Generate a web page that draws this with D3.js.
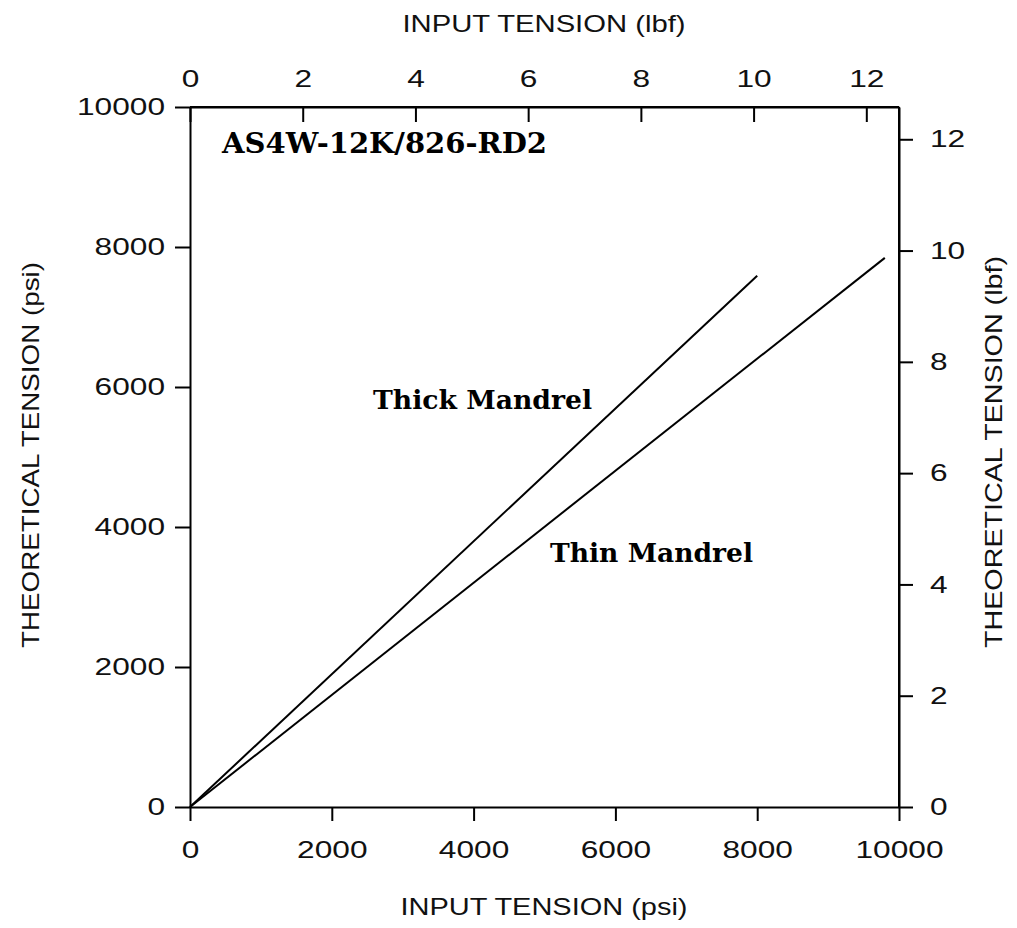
<!DOCTYPE html>
<html>
<head>
<meta charset="utf-8">
<script src="https://cdn.jsdelivr.net/npm/d3@7"></script>
<style>
  html, body { margin: 0; padding: 0; background: #fff; }
  svg { display: block; }
</style>
</head>
<body>
<div id="chart"></div>
<script>
// values
const seriesNames = ['Thick Mandrel', 'Thin Mandrel'];
const thickInput = [0, 8000];        // input tension, psi
const thickTheo  = [0, 7590];        // theoretical tension, psi
const thinInput  = [0, 9800];
const thinTheo   = [0, 7845];
const psiTicks   = [0, 2000, 4000, 6000, 8000, 10000];
const lbfTicks   = [0, 2, 4, 6, 8, 10, 12];
const lbfPerPsi  = 0.001258;         // conversion used by the secondary axes
const materialLabel = 'AS4W-12K/826-RD2';

(function(){
  const W = 1017, H = 928,
        left = 190, right = 899, top = 107, bottom = 807;

  const svg = d3.select('#chart').append('svg')
    .attr('width', W).attr('height', H);

  const x  = d3.scaleLinear().domain([0, 10000]).range([left, right]);
  const y  = d3.scaleLinear().domain([0, 10000]).range([bottom, top]);
  const x2 = d3.scaleLinear().domain([0, 10000 * lbfPerPsi]).range([left, right]);
  const y2 = d3.scaleLinear().domain([0, 10000 * lbfPerPsi]).range([bottom, top]);

  const tickFont = 'Liberation Sans, Arial, sans-serif';
  const sx = 1.32; // glyphs in the original are wide
  const fmt = d3.format('d');

  function styleAxis(g) {
    g.attr('font-family', tickFont).attr('font-size', 24);
    g.select('.domain').attr('stroke', '#000').attr('stroke-width', 2);
    g.selectAll('.tick line').attr('stroke', '#000').attr('stroke-width', 2);
    g.selectAll('.tick text').attr('fill', '#111').each(function(){
      const t = d3.select(this);
      const tx = +t.attr('x') || 0;
      t.attr('x', 0).attr('transform', `translate(${tx},0) scale(${sx},1)`);
    });
  }

  svg.append('g')
    .attr('transform', `translate(0,${bottom})`)
    .call(d3.axisBottom(x).tickValues(psiTicks).tickFormat(fmt)
      .tickSize(14).tickSizeOuter(0).tickPadding(20))
    .call(styleAxis);

  svg.append('g')
    .attr('transform', `translate(${left},0)`)
    .call(d3.axisLeft(y).tickValues(psiTicks).tickFormat(fmt)
      .tickSize(15).tickSizeOuter(0).tickPadding(10))
    .call(styleAxis);

  svg.append('g')
    .attr('transform', `translate(0,${top})`)
    .call(d3.axisTop(x2).tickValues(lbfTicks).tickFormat(fmt)
      .tickSize(-15).tickSizeOuter(0).tickPadding(20))
    .call(styleAxis);

  svg.append('g')
    .attr('transform', `translate(${right},0)`)
    .call(d3.axisRight(y2).tickValues(lbfTicks).tickFormat(fmt)
      .tickSize(14).tickSizeOuter(0).tickPadding(17))
    .call(styleAxis);

  // frame edges
  svg.append('line')
    .attr('x1', left).attr('x2', right).attr('y1', top).attr('y2', top)
    .attr('stroke', '#000').attr('stroke-width', 2);
  svg.append('line')
    .attr('x1', right).attr('x2', right).attr('y1', top).attr('y2', bottom)
    .attr('stroke', '#000').attr('stroke-width', 2);

  // curves
  const series = [
    { name: seriesNames[0], pts: thickInput.map((v, i) => [v, thickTheo[i]]) },
    { name: seriesNames[1], pts: thinInput.map((v, i) => [v, thinTheo[i]]) }
  ];
  const line = d3.line().x(d => x(d[0])).y(d => y(d[1]));
  svg.append('g').selectAll('path')
    .data(series)
    .enter().append('path')
      .attr('d', d => line(d.pts))
      .attr('fill', 'none')
      .attr('stroke', '#000')
      .attr('stroke-width', 2);

  // labels inside the plot
  const serif = 'DejaVu Serif, Liberation Serif, serif';
  svg.append('text')
    .attr('x', 222).attr('y', 153)
    .attr('font-family', serif).attr('font-weight', 'bold').attr('font-size', 27)
    .attr('textLength', 325).attr('lengthAdjust', 'spacingAndGlyphs')
    .text(materialLabel);
  svg.append('text')
    .attr('x', 373).attr('y', 409)
    .attr('font-family', serif).attr('font-weight', 'bold').attr('font-size', 26)
    .attr('textLength', 219).attr('lengthAdjust', 'spacingAndGlyphs')
    .text(seriesNames[0]);
  svg.append('text')
    .attr('x', 550).attr('y', 562)
    .attr('font-family', serif).attr('font-weight', 'bold').attr('font-size', 26)
    .attr('textLength', 203).attr('lengthAdjust', 'spacingAndGlyphs')
    .text(seriesNames[1]);

  // axis titles
  function title(txt, tx, ty, rot, len) {
    svg.append('text')
      .attr('transform', `translate(${tx},${ty}) rotate(${rot})`)
      .attr('text-anchor', 'middle')
      .attr('font-family', tickFont).attr('font-size', 24).attr('fill', '#111')
      .attr('textLength', len).attr('lengthAdjust', 'spacingAndGlyphs')
      .text(txt);
  }
  title('INPUT TENSION (lbf)', 544, 32, 0, 283);
  title('INPUT TENSION (psi)', 544, 915, 0, 287);
  title('THEORETICAL TENSION (psi)', 39, 455, -90, 386);
  title('THEORETICAL TENSION (lbf)', 1002, 452, -90, 392);
})();
</script>
</body>
</html>
